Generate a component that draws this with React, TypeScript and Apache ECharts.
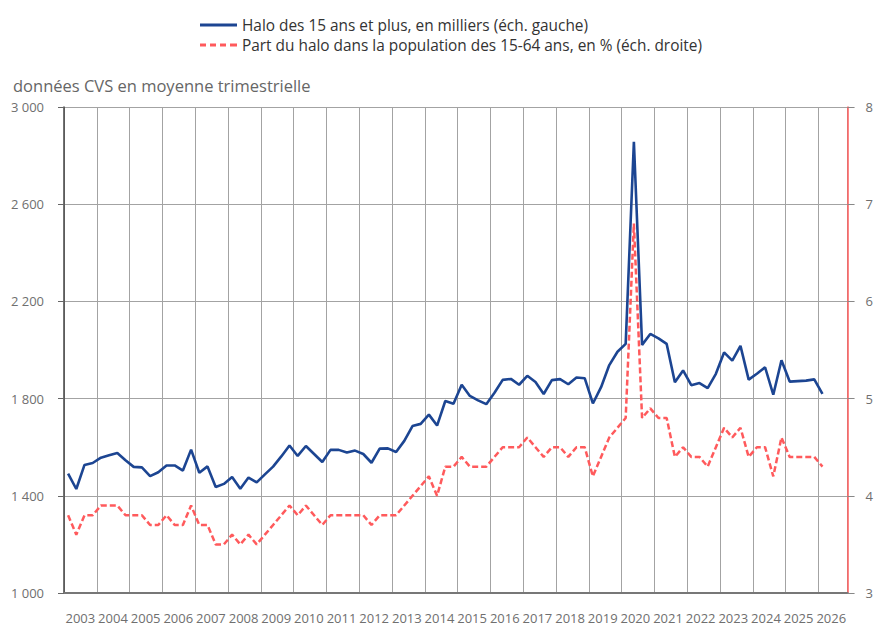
import React, { useEffect, useRef } from "react";
import * as echarts from "echarts";

// Year labels of the x axis (one band per year, four quarters each)
const yearLabels = [
  "2003", "2004", "2005", "2006", "2007", "2008", "2009", "2010", "2011", "2012", "2013", "2014",
  "2015", "2016", "2017", "2018", "2019", "2020", "2021", "2022", "2023", "2024", "2025", "2026",
];

// Quarterly series, starting 2003 Q1
const haloThousands = [
  1491, 1428, 1527, 1535,
  1557, 1567, 1576, 1546,
  1519, 1517, 1481, 1497,
  1525, 1525, 1504, 1590,
  1495, 1521, 1436, 1449,
  1477, 1429, 1475, 1455,
  1488, 1520, 1562, 1607,
  1564, 1605, 1572, 1539,
  1589, 1589, 1578, 1586,
  1572, 1536, 1594, 1595,
  1580, 1626, 1687, 1696,
  1734, 1689, 1790, 1779,
  1857, 1811, 1793, 1777,
  1824, 1877, 1881, 1857,
  1894, 1868, 1819, 1876,
  1880, 1859, 1887, 1884,
  1780, 1847, 1938, 1993,
  2025, 2857, 2021, 2066,
  2048, 2025, 1867, 1916,
  1855, 1864, 1843, 1902,
  1990, 1956, 2017, 1878,
  1902, 1929, 1816, 1958,
  1870, 1872, 1874, 1879,
  1819,
];

const haloSharePct = [
  3.8, 3.6, 3.8, 3.8,
  3.9, 3.9, 3.9, 3.8,
  3.8, 3.8, 3.7, 3.7,
  3.8, 3.7, 3.7, 3.9,
  3.7, 3.7, 3.5, 3.5,
  3.6, 3.5, 3.6, 3.5,
  3.6, 3.7, 3.8, 3.9,
  3.8, 3.9, 3.8, 3.7,
  3.8, 3.8, 3.8, 3.8,
  3.8, 3.7, 3.8, 3.8,
  3.8, 3.9, 4.0, 4.1,
  4.2, 4.0, 4.3, 4.3,
  4.4, 4.3, 4.3, 4.3,
  4.4, 4.5, 4.5, 4.5,
  4.6, 4.5, 4.4, 4.5,
  4.5, 4.4, 4.5, 4.5,
  4.2, 4.4, 4.6, 4.7,
  4.8, 6.8, 4.8, 4.9,
  4.8, 4.8, 4.4, 4.5,
  4.4, 4.4, 4.3, 4.5,
  4.7, 4.6, 4.7, 4.4,
  4.5, 4.5, 4.2, 4.6,
  4.4, 4.4, 4.4, 4.4,
  4.3,
];

const leftTicks = { min: 1000, max: 3000, interval: 400 };
const rightTicks = { min: 3, max: 8, interval: 1 };

const seriesNames = [
  "Halo des 15 ans et plus, en milliers (éch. gauche)",
  "Part du halo dans la population des 15-64 ans, en % (éch. droite)",
];
const subtitle = "données CVS en moyenne trimestrielle";

const FONT = "'Open Sans', 'Noto Sans', sans-serif";
const LABEL_COLOR = "#6f6f6f";
const GRID_COLOR = "#a3a3a3";
const BLUE = "#1c4592";
const RED = "#ff5a5c";

const SOLID_ICON = "path://M0,0h37v3h-37z";
const DASH_ICON = "path://M0,0h6v3h-6zM10,0h6v3h-6zM20,0h6v3h-6zM30,0h7v3h-7z";

export default function App() {
  const ref = useRef<HTMLDivElement>(null);

  useEffect(() => {
    document.body.style.margin = "0";
    if (!ref.current) return;
    const chart = echarts.init(ref.current, undefined, { renderer: "svg" });
    const quarterMax = 95.56;
    chart.setOption({
      animation: false,
      textStyle: { fontFamily: FONT },
      title: {
        text: subtitle,
        left: 8,
        top: 72,
        textStyle: { fontFamily: FONT, fontSize: 16.5, fontWeight: "normal", color: "#666" },
      },
      legend: {
        orient: "vertical",
        left: 195,
        top: 11,
        itemWidth: 37,
        itemHeight: 3,
        itemGap: 2,
        textStyle: { fontFamily: FONT, fontSize: 15.4, lineHeight: 18, color: "#333" },
        data: [
          { name: seriesNames[0], icon: SOLID_ICON, itemStyle: { color: BLUE } },
          { name: seriesNames[1], icon: DASH_ICON, itemStyle: { color: RED } },
        ],
      },
      grid: { left: 64, right: 27.7, top: 107, bottom: 33, containLabel: false },
      xAxis: [
        {
          type: "value",
          min: 0,
          max: quarterMax,
          interval: 4,
          position: "bottom",
          axisLine: { show: true, onZero: false, lineStyle: { color: "#777", width: 2 } },
          axisTick: { show: false },
          axisLabel: { show: false },
          splitLine: { show: true, lineStyle: { color: GRID_COLOR, width: 1 } },
        },
        {
          type: "category",
          data: yearLabels,
          position: "bottom",
          boundaryGap: true,
          axisLine: { show: false },
          axisTick: { show: false },
          splitLine: { show: false },
          axisLabel: { interval: 0, margin: 18, fontSize: 13, color: LABEL_COLOR, fontFamily: FONT },
        },
      ],
      yAxis: [
        {
          type: "value",
          position: "left",
          min: leftTicks.min,
          max: leftTicks.max,
          interval: leftTicks.interval,
          axisLine: { show: true, lineStyle: { color: "#444", width: 1.5 } },
          axisTick: { show: true, length: 6, lineStyle: { color: "#666" } },
          axisLabel: {
            margin: 20,
            fontSize: 13,
            color: LABEL_COLOR,
            fontFamily: FONT,
            formatter: (v: number) => String(v).replace(/\B(?=(\d{3})+(?!\d))/g, " "),
          },
          splitLine: { show: true, lineStyle: { color: GRID_COLOR, width: 1 } },
        },
        {
          type: "value",
          position: "right",
          min: rightTicks.min,
          max: rightTicks.max,
          interval: rightTicks.interval,
          axisLine: { show: true, lineStyle: { color: "#ff5c5c", width: 1.5 } },
          axisTick: { show: true, length: 7, lineStyle: { color: "#888" } },
          axisLabel: { margin: 18, fontSize: 13, color: LABEL_COLOR, fontFamily: FONT },
          splitLine: { show: false },
        },
      ],
      series: [
        {
          name: seriesNames[0],
          type: "line",
          xAxisIndex: 0,
          yAxisIndex: 0,
          symbol: "none",
          data: haloThousands.map((v, i) => [i + 0.5, v]),
          lineStyle: { color: BLUE, width: 2.6 },
          itemStyle: { color: BLUE },
        },
        {
          name: seriesNames[1],
          type: "line",
          xAxisIndex: 0,
          yAxisIndex: 1,
          symbol: "none",
          data: haloSharePct.map((v, i) => [i + 0.5, v]),
          lineStyle: { color: RED, width: 2.5, type: [6, 3] },
          itemStyle: { color: RED },
        },
      ],
    });
    return () => chart.dispose();
  }, []);

  return <div ref={ref} style={{ width: 876, height: 626 }} />;
}
